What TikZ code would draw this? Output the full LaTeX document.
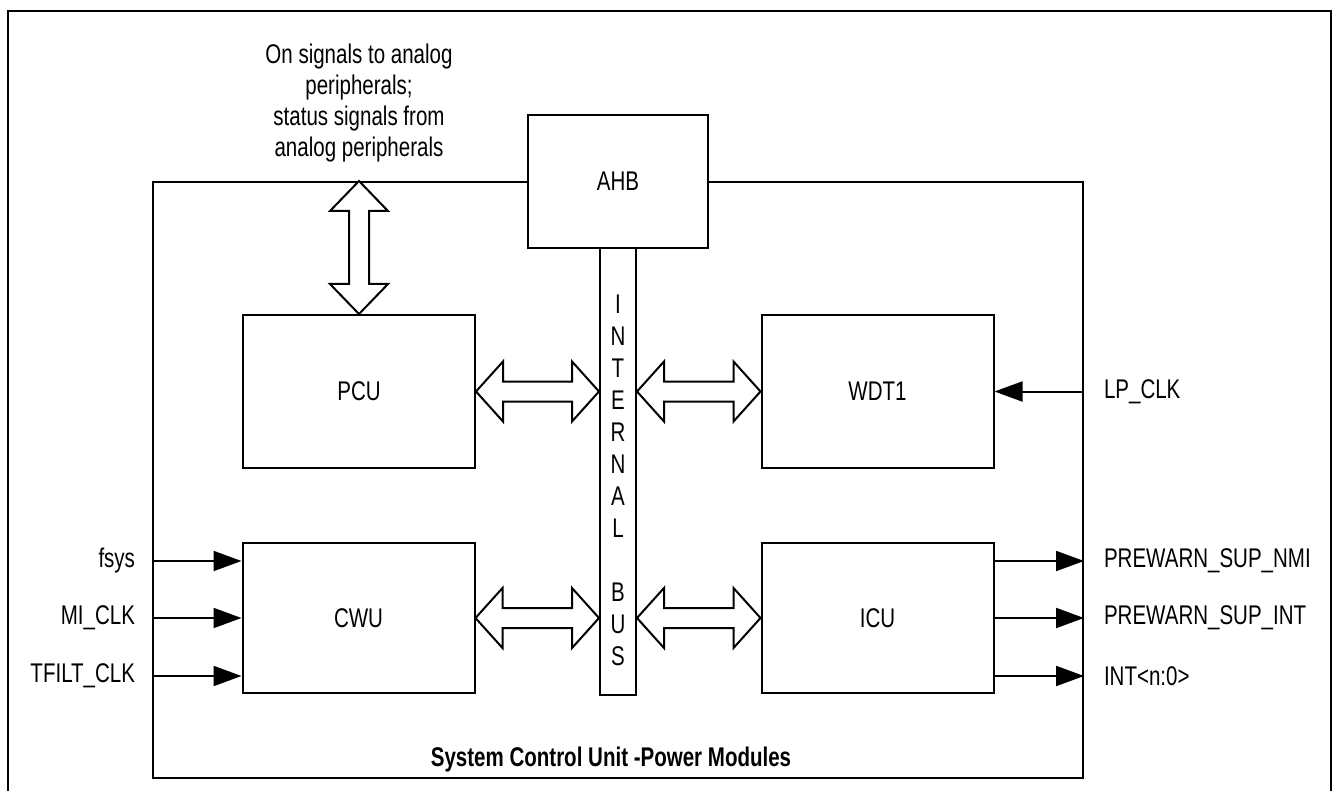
\documentclass[tikz,border=0pt]{standalone}
\usepackage{fontspec}
\setmainfont[FakeStretch=0.76]{Liberation Sans}
\usepackage{tikz}
\usetikzlibrary{arrows.meta}
\usetikzlibrary{positioning}

% hollow double arrows: left/right tip, top/bottom tip
\newcommand{\hbusarrow}[2]{\draw[busarrow] (#1) -- ([shift={(27,-30)}]#1) -- ([shift={(27,-10)}]#1) -- ([shift={(-27,-10)}]#2) -- ([shift={(-27,-30)}]#2) -- (#2) -- ([shift={(-27,30)}]#2) -- ([shift={(-27,10)}]#2) -- ([shift={(27,10)}]#1) -- ([shift={(27,30)}]#1) -- cycle;}
\newcommand{\vbusarrow}[2]{\draw[busarrow] (#1) -- ([shift={(29,30)}]#1) -- ([shift={(10,30)}]#1) -- ([shift={(10,-30)}]#2) -- ([shift={(29,-30)}]#2) -- (#2) -- ([shift={(-29,-30)}]#2) -- ([shift={(-10,-30)}]#2) -- ([shift={(-10,30)}]#1) -- ([shift={(-29,30)}]#1) -- cycle;}

\begin{document}
\begin{tikzpicture}[x=0.5pt,y=-0.5pt,line width=1pt,
	font=\fontsize{13.5}{16}\selectfont,
	blk/.style={draw,minimum width=116pt,minimum height=76.5pt,inner sep=0pt},
	busarrow/.style={draw,fill=white,line join=miter},
	sig/.style={-{Triangle[length=14pt,width=10pt]}},
	lbl/.style={inner sep=0pt}]

	\useasboundingbox (0,0) rectangle (1333,791);
	\draw (8,800) -- (8,11) -- (1331,11) -- (1331,800);

	\node[draw,minimum width=465pt,minimum height=298pt] (scu) at (618,480) {};
	\node[lbl,font=\fontsize{13.5}{16}\selectfont\bfseries,anchor=base] (scutitle) at (611,766) {System Control Unit -Power Modules};

	\node[draw,fill=white,minimum width=90pt,minimum height=66.5pt] (ahb) at (618,181.5) {AHB};
	\node[draw,minimum width=18pt,minimum height=223.5pt] (bus) at (618,471.5) {};
	\node[lbl,align=center] (busname) at (618,480) {I\\N\\T\\E\\R\\N\\A\\L\\[16pt]B\\U\\S};

	\node[blk] (pcu) at (359,391.5) {PCU};
	\node[blk] (wdt) at (877.5,391.5) {WDT1};
	\node[blk,minimum height=75pt] (cwu) at (358.5,618) {CWU};
	\node[blk,minimum height=75pt] (icu) at (877.5,618) {ICU};

	\coordinate (pcubus) at (bus.west |- pcu.east);
	\coordinate (buswdt) at (bus.east |- wdt.west);
	\coordinate (cwubus) at (bus.west |- cwu.east);
	\coordinate (busicu) at (bus.east |- icu.west);
	\hbusarrow{pcu.east}{pcubus}
	\hbusarrow{buswdt}{wdt.west}
	\hbusarrow{cwu.east}{cwubus}
	\hbusarrow{busicu}{icu.west}

	\coordinate (pcutop) at (pcu.north |- scu.north);
	\vbusarrow{pcutop}{pcu.north}
	\node[lbl,align=center,font=\fontsize{13.5}{15.5}\selectfont,above=9pt of pcutop] (analog) {On signals to analog\\peripherals;\\status signals from\\analog peripherals};

	\foreach \lbl/\ypos [count=\i] in {fsys/561,MI\_CLK/618,TFILT\_CLK/676}{
		\coordinate (in\i) at (scu.west |- 0,\ypos);
		\draw[sig] (in\i) -- (in\i -| cwu.west);
		\node[lbl,left=8pt of in\i] (inlbl\i) {\lbl};
	}
	\foreach \lbl/\ypos [count=\i] in {PREWARN\_SUP\_NMI/561,PREWARN\_SUP\_INT/618,INT<n:0>/676}{
		\coordinate (out\i) at (scu.east |- 0,\ypos);
		\draw[sig] (out\i -| icu.east) -- (out\i);
		\node[lbl,right=9.5pt of out\i] (outlbl\i) {\lbl};
	}

	\coordinate (lpclk) at (scu.east |- wdt.east);
	\draw[sig] (lpclk) -- (wdt.east);
	\node[lbl,right=9.5pt of lpclk] (lpclklbl) {LP\_CLK};
\end{tikzpicture}
\end{document}
